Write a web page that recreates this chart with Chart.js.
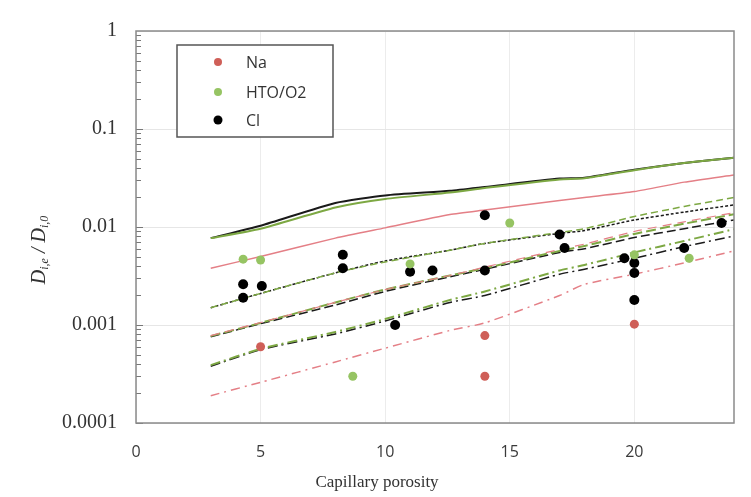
<!DOCTYPE html>
<html>
<head>
<meta charset="utf-8">
<script src="https://cdn.jsdelivr.net/npm/chart.js@4.4.1/dist/chart.umd.min.js"></script>
<style>
  html, body { margin: 0; padding: 0; background: #fff; }
  #wrap { width: 751px; height: 497px; }
</style>
</head>
<body>
<div id="wrap"><canvas id="c" width="751" height="497"></canvas></div>
<script>
// capillary porosity nodes used by the model curves
const modelX = [3, 5, 8, 10, 12.6, 14, 17, 18, 20, 22, 24];

// model curves
const clSolid   = [0.0077, 0.0103, 0.0176, 0.021, 0.0234, 0.0256, 0.0312, 0.0318, 0.0385, 0.045, 0.051];
const htoSolid  = [0.0077, 0.0096, 0.0158, 0.0193, 0.0225, 0.0250, 0.0306, 0.0314, 0.0380, 0.045, 0.051];
const naSolid   = [0.0038, 0.0050, 0.0077, 0.0098, 0.0134, 0.0149, 0.0186, 0.0200, 0.0230, 0.0287, 0.034];
const clDot     = [0.0015, 0.0021, 0.0034, 0.0045, 0.0058, 0.0068, 0.0086, 0.0092, 0.0118, 0.0142, 0.0168];
const htoDash   = [0.0015, 0.0021, 0.0034, 0.0044, 0.0058, 0.0068, 0.0088, 0.0096, 0.0128, 0.0162, 0.020];
const clLong    = [0.00076, 0.00103, 0.0016, 0.0022, 0.0031, 0.0037, 0.0055, 0.0060, 0.0078, 0.0096, 0.0118];
const htoLong   = [0.00077, 0.00105, 0.0017, 0.0023, 0.0032, 0.0038, 0.0057, 0.0064, 0.0085, 0.0108, 0.0135];
const naLong    = [0.00078, 0.00106, 0.0017, 0.0023, 0.0032, 0.0039, 0.0059, 0.0067, 0.0090, 0.0113, 0.0140];
const clDashDot = [0.00038, 0.00056, 0.00081, 0.0011, 0.0017, 0.0020, 0.0033, 0.0037, 0.0048, 0.0063, 0.0081];
const htoDashDot= [0.00039, 0.00057, 0.00085, 0.00115, 0.0018, 0.0022, 0.0036, 0.0041, 0.0055, 0.0072, 0.0095];
const naDashDot = [0.00019, 0.00026, 0.00042, 0.00058, 0.00088, 0.00105, 0.0020, 0.0026, 0.0033, 0.0043, 0.0057];

// measured points
const naX  = [5.0, 14.0, 14.0, 20.0];
const naY  = [0.0006, 0.00078, 0.0003, 0.00102];
const htoX = [4.3, 5.0, 8.7, 11.0, 15.0, 20.0, 22.2];
const htoY = [0.0047, 0.0046, 0.0003, 0.0042, 0.011, 0.0052, 0.0048];
const clX  = [4.3, 4.3, 5.05, 8.3, 8.3, 11.0, 11.9, 10.4, 14.0, 14.0, 17.0, 17.2, 19.6, 20.0, 20.0, 20.0, 22.0, 23.5];
const clY  = [0.0026, 0.0019, 0.0025, 0.0052, 0.0038, 0.0035, 0.0036, 0.001, 0.0132, 0.0036, 0.0084, 0.0061, 0.0048, 0.0043, 0.0034, 0.0018, 0.0061, 0.011];

const xTicks = [0, 5, 10, 15, 20];
const yTicks = [0.0001, 0.001, 0.01, 0.1, 1];
const yTickLabels = ['0.0001', '0.001', '0.01', '0.1', '1'];

const RED = '#cf5f58', GREEN = '#96c463', BLACK = '#000000';
const RED_LINE = '#e47f86', GREEN_LINE = '#7da843', BLACK_LINE = '#1a1a1a';

function pts(xs, ys) { return xs.map((x, i) => ({ x: x, y: ys[i] })); }

function curve(ys, color, dash, width) {
  return {
    label: '', data: pts(modelX, ys), showLine: true, pointRadius: 0,
    borderColor: color, borderWidth: width || 1.5, borderDash: dash || [],
    fill: false, tension: 0.2, order: 2, isCurve: true
  };
}

function marks(label, xs, ys, color, r) {
  return {
    label: label, data: pts(xs, ys), showLine: false,
    pointRadius: r, pointBackgroundColor: color, pointBorderColor: color,
    pointBorderWidth: 0, backgroundColor: color, borderColor: color, order: 0
  };
}

const datasets = [
  curve(htoSolid, GREEN_LINE, [], 2),
  curve(clSolid, BLACK_LINE, [], 2),
  curve(naSolid, RED_LINE, [], 1.5),
  curve(htoDash, GREEN_LINE, [7, 4], 1.5),
  curve(clDot, BLACK_LINE, [3, 2], 1.5),
  curve(naLong, RED_LINE, [9, 6], 1.2),
  curve(htoLong, GREEN_LINE, [10, 4], 2),
  curve(clLong, BLACK_LINE, [9, 4], 1.5),
  curve(htoDashDot, GREEN_LINE, [10, 4, 2, 4], 2),
  curve(clDashDot, BLACK_LINE, [10, 4, 2, 4], 1.5),
  curve(naDashDot, RED_LINE, [9, 5, 2, 5], 1.5),
  marks('Na', naX, naY, RED, 4.5),
  marks('HTO/O2', htoX, htoY, GREEN, 4.5),
  marks('Cl', clX, clY, BLACK, 5)
];

const decor = {
  id: 'decor',
  afterDraw(chart) {
    const ctx = chart.ctx;
    const a = chart.chartArea;
    const y = chart.scales.y;
    ctx.save();

    // minor ticks inside the left axis
    ctx.strokeStyle = '#777';
    ctx.lineWidth = 1;
    for (let d = 0; d < yTicks.length - 1; d++) {
      for (let k = 1; k <= 9; k++) {
        const py = Math.round(y.getPixelForValue(yTicks[d] * k)) + 0.5;
        const len = k === 1 ? 7 : 5;
        ctx.beginPath();
        ctx.moveTo(a.left, py);
        ctx.lineTo(a.left + len, py);
        ctx.stroke();
      }
    }

    // plot frame
    ctx.strokeStyle = '#8a8a8a';
    ctx.lineWidth = 1.5;
    ctx.strokeRect(a.left, a.top, a.right - a.left, a.bottom - a.top);

    // legend box
    ctx.fillStyle = '#fff';
    ctx.fillRect(177, 45, 156, 92);
    ctx.strokeStyle = '#555';
    ctx.lineWidth = 1.5;
    ctx.strokeRect(177, 45, 156, 92);
    const rows = [62, 92, 120];
    let row = 0;
    chart.data.datasets.forEach(ds => {
      if (ds.isCurve) return;
      const ry = rows[row++];
      ctx.beginPath();
      ctx.fillStyle = ds.pointBackgroundColor;
      ctx.arc(218, ry, ds.pointRadius - 0.5, 0, Math.PI * 2);
      ctx.fill();
      ctx.fillStyle = '#333';
      ctx.font = '16px "Open Sans"';
      ctx.textBaseline = 'middle';
      ctx.textAlign = 'left';
      ctx.fillText(ds.label, 246, ry + 1);
    });

    // x title
    ctx.fillStyle = '#333';
    ctx.font = '17px "Liberation Serif"';
    ctx.textAlign = 'center';
    ctx.textBaseline = 'middle';
    ctx.fillText('Capillary porosity', 377, 483);

    // y title with subscripts
    const parts = [
      ['D', 'italic 20px "Liberation Serif"', 0],
      ['i,e', 'italic 12px "Liberation Serif"', 5],
      [' / ', 'italic 20px "Liberation Serif"', 0],
      ['D', 'italic 20px "Liberation Serif"', 0],
      ['i,0', 'italic 12px "Liberation Serif"', 5]
    ];
    let total = 0;
    parts.forEach(p => { ctx.font = p[1]; total += ctx.measureText(p[0]).width; });
    ctx.translate(40, 250);
    ctx.rotate(-Math.PI / 2);
    ctx.textAlign = 'left';
    ctx.textBaseline = 'middle';
    let tx = -total / 2;
    parts.forEach(p => {
      ctx.font = p[1];
      ctx.fillText(p[0], tx, p[2]);
      tx += ctx.measureText(p[0]).width;
    });
    ctx.restore();
  }
};

new Chart(document.getElementById('c'), {
  type: 'scatter',
  data: { datasets: datasets },
  options: {
    responsive: false,
    animation: false,
    layout: { padding: { top: 16, right: 17, left: 0, bottom: 0 } },
    plugins: { legend: { display: false }, tooltip: { enabled: false } },
    scales: {
      x: {
        type: 'linear', min: 0, max: 24,
        afterBuildTicks: s => { s.ticks = xTicks.map(v => ({ value: v })); },
        afterFit: s => { s.height = 74; },
        grid: { color: '#ececec', lineWidth: 1, drawTicks: false },
        border: { display: false },
        ticks: { padding: 20, color: '#3a3a3a', font: { family: 'Open Sans', size: 16 } }
      },
      y: {
        type: 'logarithmic', min: 0.0001, max: 1,
        afterBuildTicks: s => { s.ticks = yTicks.map(v => ({ value: v, major: true })); },
        afterFit: s => { s.width = 136; },
        grid: { color: '#e6e6e6', lineWidth: 1, drawTicks: false },
        border: { display: false },
        ticks: {
          padding: 19, color: '#333',
          font: { family: 'Liberation Serif', size: 20 },
          callback: v => { const i = yTicks.indexOf(v); return i >= 0 ? yTickLabels[i] : ''; }
        }
      }
    }
  },
  plugins: [decor]
});
</script>
</body>
</html>
